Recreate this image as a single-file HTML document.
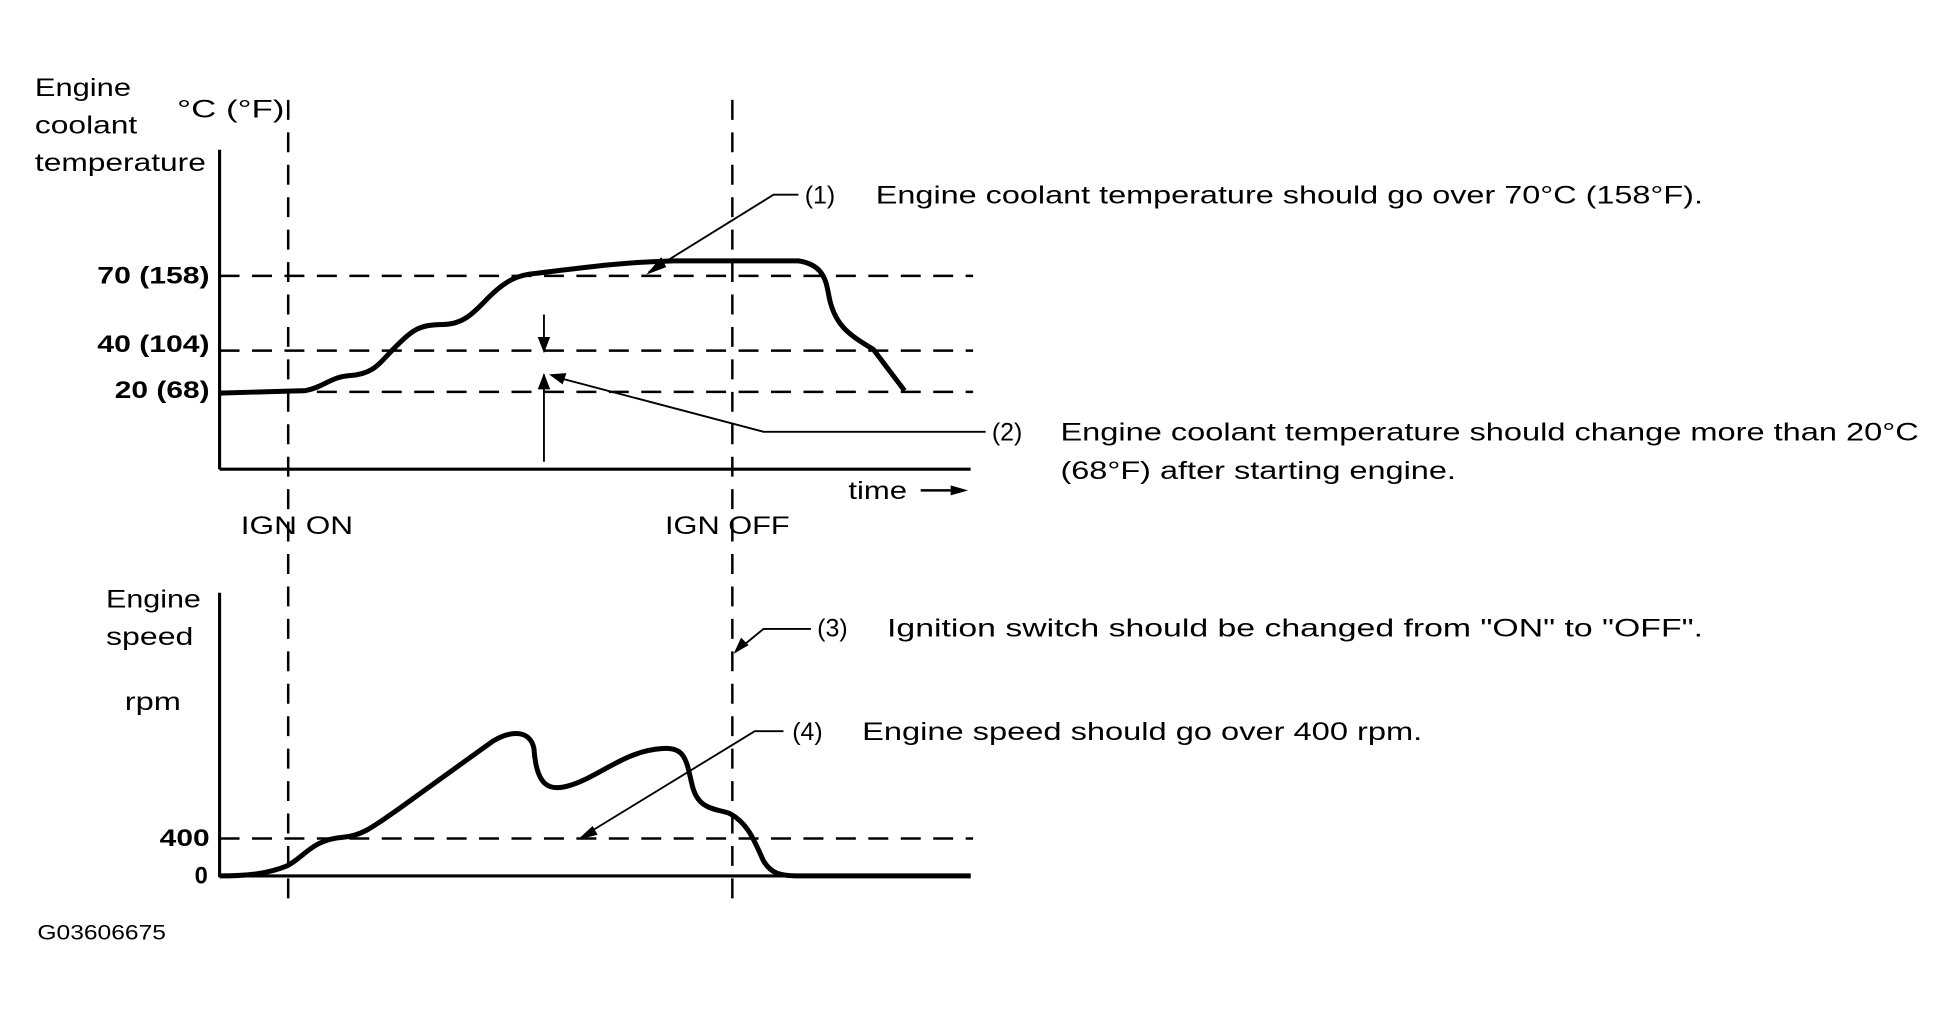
<!DOCTYPE html>
<html><head><meta charset="utf-8"><style>html,body{margin:0;padding:0;background:#fff}svg{display:block}</style></head>
<body>
<svg width="1950" height="1012" viewBox="0 0 1563 811" xmlns="http://www.w3.org/2000/svg" font-family="'Liberation Sans', sans-serif" fill="#000">
<g stroke="#000" fill="none">
<line x1="176" y1="120" x2="176" y2="376" stroke-width="2.5"/>
<line x1="176" y1="376" x2="778" y2="376" stroke-width="2.5"/>
<g stroke-width="2" stroke-dasharray="16,10">
<line x1="176" y1="221" x2="780" y2="221"/>
<line x1="176" y1="281" x2="780" y2="281"/>
<line x1="176" y1="314" x2="780" y2="314"/>
<line x1="176" y1="672" x2="780" y2="672"/>
<line x1="231" y1="80" x2="231" y2="720"/>
<line x1="587" y1="80" x2="587" y2="720"/>
</g>
<line x1="176" y1="475" x2="176" y2="703" stroke-width="2.5"/>
<line x1="176" y1="702" x2="778" y2="702" stroke-width="2.5"/>
<path d="M176 315 L245 313 C260 310 265 302 280 301 C300 300 305 290 315 280 C330 265 335 260 355 260 C372 260 380 250 392 238 C405 225 415 220 430 219 C470 214 500 210 540 209 L640 209 C660 212 662 225 664 235 C668 260 680 268 700 280 L725 313" stroke-width="4"/>
<path d="M176 702 C200 702 215 700 230 694 C245 686 250 673 275 671 C290 670 300 662 320 648 L395 594 C410 585 425 585 428 600 C430 630 440 634 455 630 C480 623 500 602 530 600 C550 598 550 610 555 630 C560 650 575 648 585 652 C600 660 605 675 612 690 C618 700 625 702 640 702 L778 702" stroke-width="4"/>
<path d="M640 156 L620 156 L520 218" stroke-width="1.5"/>
<path d="M790 346 L612 346 L445 302" stroke-width="1.5"/>
<path d="M650 504 L612 504 L590 522" stroke-width="1.5"/>
<path d="M628 586 L605 586 L466 671" stroke-width="1.5"/>
<line x1="436" y1="252" x2="436" y2="280" stroke-width="1.5"/>
<line x1="436" y1="370" x2="436" y2="300" stroke-width="1.5"/>
<line x1="738" y1="393" x2="762" y2="393" stroke-width="2"/>
</g>
<g stroke="none">
<polygon points="431,270 441,270 436,283"/>
<polygon points="431,312 441,312 436,299"/>
<polygon points="518,220 530,206 534,214"/>
<polygon points="440,300 454,299 451,308"/>
<polygon points="588,524 594,511 600,517"/>
<polygon points="463,673 475,662 479,669"/>
<polygon points="762,389 776,393 762,397"/>
</g>
<g font-size="20" lengthAdjust="spacingAndGlyphs">
<text x="28" y="77" textLength="77" lengthAdjust="spacingAndGlyphs">Engine</text>
<text x="28" y="107" textLength="82" lengthAdjust="spacingAndGlyphs">coolant</text>
<text x="28" y="137" textLength="137" lengthAdjust="spacingAndGlyphs">temperature</text>
<text x="142" y="94" textLength="86" lengthAdjust="spacingAndGlyphs">°C (°F)</text>
<text x="193" y="428" textLength="90" lengthAdjust="spacingAndGlyphs">IGN ON</text>
<text x="533" y="428" textLength="100" lengthAdjust="spacingAndGlyphs">IGN OFF</text>
<text x="680" y="400" textLength="47" lengthAdjust="spacingAndGlyphs">time</text>
<text x="85" y="487" textLength="76" lengthAdjust="spacingAndGlyphs">Engine</text>
<text x="85" y="517" textLength="70" lengthAdjust="spacingAndGlyphs">speed</text>
<text x="100" y="569" textLength="45" lengthAdjust="spacingAndGlyphs">rpm</text>
<text x="645" y="163">(1)</text>
<text x="702" y="163" textLength="663" lengthAdjust="spacingAndGlyphs">Engine coolant temperature should go over 70°C (158°F).</text>
<text x="795" y="353">(2)</text>
<text x="850" y="353" textLength="688" lengthAdjust="spacingAndGlyphs">Engine coolant temperature should change more than 20°C</text>
<text x="850" y="384" textLength="317" lengthAdjust="spacingAndGlyphs">(68°F) after starting engine.</text>
<text x="655" y="510">(3)</text>
<text x="711" y="510" textLength="654" lengthAdjust="spacingAndGlyphs">Ignition switch should be changed from "ON" to "OFF".</text>
<text x="635" y="593">(4)</text>
<text x="691" y="593" textLength="449" lengthAdjust="spacingAndGlyphs">Engine speed should go over 400 rpm.</text>
<text x="30" y="753" font-size="17" textLength="103" lengthAdjust="spacingAndGlyphs">G03606675</text>
</g>
<g font-size="19" font-weight="bold">
<text x="78" y="227" textLength="90" lengthAdjust="spacingAndGlyphs">70 (158)</text>
<text x="78" y="282" textLength="90" lengthAdjust="spacingAndGlyphs">40 (104)</text>
<text x="92" y="319" textLength="76" lengthAdjust="spacingAndGlyphs">20 (68)</text>
<text x="128" y="678" textLength="40" lengthAdjust="spacingAndGlyphs">400</text>
<text x="156" y="708">0</text>
</g>
</svg>
</body></html>
